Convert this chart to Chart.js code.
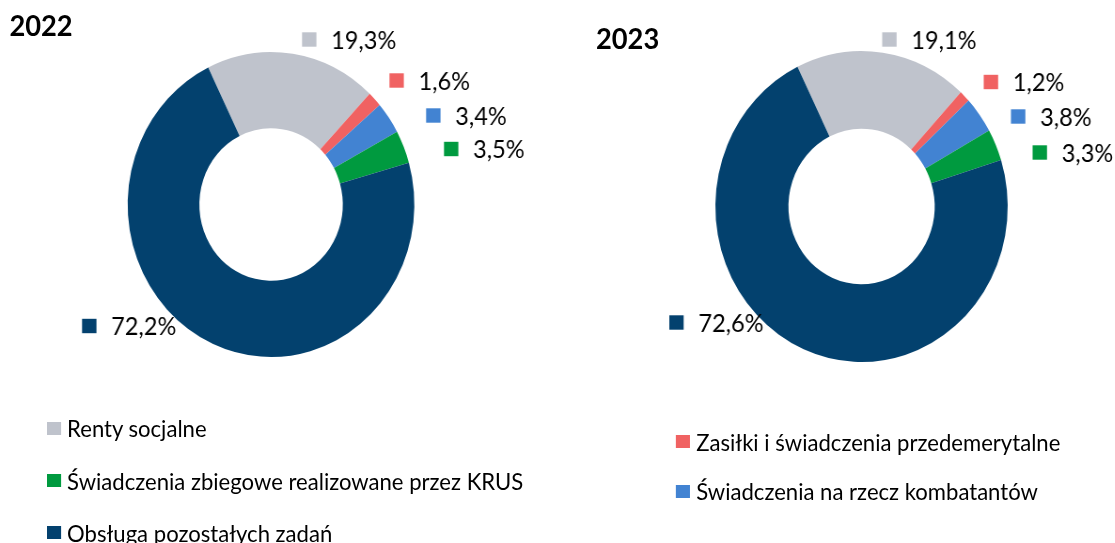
<!DOCTYPE html>
<html>
<head>
<meta charset="utf-8">
<script src="https://cdn.jsdelivr.net/npm/chart.js@4/dist/chart.umd.min.js"></script>
<style>
  html, body { margin: 0; padding: 0; background: #fff; overflow: hidden; }
  /* the source image is squeezed horizontally, so the whole stage is too */
  #stage {
    position: absolute; left: 0; top: 0;
    width: 1186px; height: 543px;
    transform: scaleX(0.94); transform-origin: 0 0;
    font-family: Lato, "Open Sans", sans-serif; color: #000;
  }
  canvas { position: absolute; top: 0; }
  .title { position: absolute; font-weight: bold; font-size: 29px; line-height: 29px; }
  .legend-item { position: absolute; display: flex; align-items: center; height: 26px; font-size: 23.5px; white-space: nowrap; }
  .legend-item span.box { display: inline-block; width: 15px; height: 13px; margin-right: 6.7px; }
</style>
</head>
<body>
<div id="stage">
  <div class="title" id="t2022" style="left:10px; top:10px;">2022</div>
  <div class="title" id="t2023" style="left:634px; top:23px;">2023</div>
  <canvas id="chart2022" width="600" height="400" style="left:0;"></canvas>
  <canvas id="chart2023" width="586" height="400" style="left:600px;"></canvas>
  <div id="legend"></div>
</div>
<script>
const categories = [
  'Renty socjalne',
  'Zasiłki i świadczenia przedemerytalne',
  'Świadczenia na rzecz kombatantów',
  'Świadczenia zbiegowe realizowane przez KRUS',
  'Obsługa pozostałych zadań'
];
const values2022 = [19.3, 1.6, 3.4, 3.5, 72.2];
const values2023 = [19.1, 1.2, 3.8, 3.3, 72.6];
const colors = ['#BFC3CC', '#F06262', '#4283D2', '#009A3F', '#03416E'];

// label placement relative to the ring centre (square left edge, square middle)
const labelPos2022 = [[33, -165], [126, -124], [165, -89], [184, -55.5], [-201, 121.5]];
const labelPos2023 = [[22, -167], [130, -124.5], [159, -90], [182, -54], [-204.5, 116]];

const fmt = v => v.toFixed(1).replace('.', ',') + '%';

const outsideLabels = {
  id: 'outsideLabels',
  afterDraw(chart, args, opts) {
    const ctx = chart.ctx;
    const area = chart.chartArea;
    const cx = (area.left + area.right) / 2;
    const cy = (area.top + area.bottom) / 2;
    const data = chart.data.datasets[0].data;
    const size = 25;
    ctx.save();
    ctx.font = size + 'px Lato, "Open Sans", sans-serif';
    ctx.textBaseline = 'alphabetic';
    ctx.textAlign = 'left';
    data.forEach((v, i) => {
      const [dx, dy] = opts.positions[i];
      const x = cx + dx, y = cy + dy;
      ctx.fillStyle = colors[i];
      ctx.fillRect(x, y - 7.2, 15.3, 14.4);
      ctx.fillStyle = '#000';
      ctx.fillText(fmt(v), x + 31, y + size * 0.72 / 2);
    });
    ctx.restore();
  }
};

function makeChart(id, values, positions, pad) {
  return new Chart(document.getElementById(id), {
    type: 'doughnut',
    data: {
      labels: categories,
      datasets: [{ data: values, backgroundColor: colors, borderWidth: 0 }]
    },
    options: {
      responsive: false,
      animation: false,
      cutout: '50%',
      rotation: -26,
      layout: { padding: pad },
      plugins: {
        legend: { display: false },
        tooltip: { enabled: false },
        outsideLabels: { positions: positions }
      }
    },
    plugins: [outsideLabels]
  });
}

makeChart('chart2022', values2022, labelPos2022, { left: 135.8, top: 52, right: 159.2, bottom: 43 });
makeChart('chart2023', values2023, labelPos2023, { left: 161, top: 51, right: 114, bottom: 38 });

// legend: two columns, the order follows the source layout
const legendSlots = [
  { idx: 0, x: 49.7, y: 421.7 },
  { idx: 3, x: 49.7, y: 474 },
  { idx: 4, x: 49.7, y: 526 },
  { idx: 1, x: 719, y: 435 },
  { idx: 2, x: 719, y: 484.5 }
];
const legend = document.getElementById('legend');
legendSlots.forEach(s => {
  const item = document.createElement('div');
  item.className = 'legend-item';
  item.style.left = s.x + 'px';
  item.style.top = (s.y - 6.5) + 'px';
  const box = document.createElement('span');
  box.className = 'box';
  box.style.background = colors[s.idx];
  const txt = document.createElement('span');
  txt.textContent = categories[s.idx];
  item.appendChild(box);
  item.appendChild(txt);
  legend.appendChild(item);
});
</script>
</body>
</html>
